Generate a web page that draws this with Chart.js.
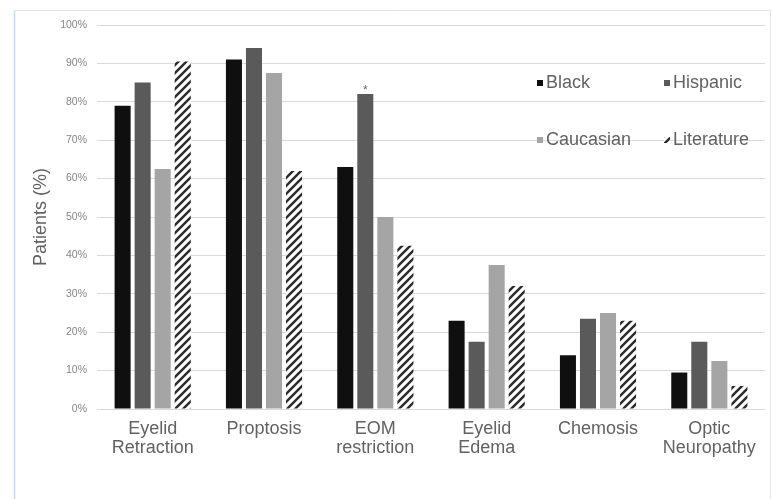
<!DOCTYPE html>
<html>
<head>
<meta charset="utf-8">
<script src="https://cdn.jsdelivr.net/npm/chart.js@4.4.1/dist/chart.umd.min.js"></script>
<style>
  html, body { margin: 0; padding: 0; background: #fff; }
  #wrap { width: 772px; height: 499px; }
</style>
</head>
<body>
<div id="wrap"><canvas id="c" width="772" height="499"></canvas></div>
<script>
// Orbital signs by patient group, percent of patients
const categories = [
  ["Eyelid", "Retraction"],
  ["Proptosis"],
  ["EOM", "restriction"],
  ["Eyelid", "Edema"],
  ["Chemosis"],
  ["Optic", "Neuropathy"]
];
const seriesNames = ["Black", "Hispanic", "Caucasian", "Literature"];
const black      = [79, 91, 63, 23, 14, 9.5];
const hispanic   = [85, 94, 82, 17.5, 23.5, 17.5];
const caucasian  = [62.5, 87.5, 50, 37.5, 25, 12.5];
const literature = [90.5, 62, 42.5, 32, 23, 6];
const yTicks = [0, 10, 20, 30, 40, 50, 60, 70, 80, 90, 100];
// Significant difference marker: series index, category index
const starMark = { series: 1, category: 2, text: "*" };

const FONT = "'Liberation Sans', Arial, Helvetica, sans-serif";

// Diagonal hatch used for the literature series
function hatchPattern(size, color, width) {
  const cv = document.createElement('canvas');
  cv.width = size; cv.height = size;
  const g = cv.getContext('2d');
  g.fillStyle = '#ffffff';
  g.fillRect(0, 0, size, size);
  g.strokeStyle = color;
  g.lineWidth = width;
  g.lineCap = 'square';
  g.beginPath();
  g.moveTo(0, size); g.lineTo(size, 0);
  g.moveTo(-size / 2, size / 2); g.lineTo(size / 2, -size / 2);
  g.moveTo(size / 2, size * 1.5); g.lineTo(size * 1.5, size / 2);
  g.stroke();
  return g.createPattern(cv, 'repeat');
}
const hatch = hatchPattern(8, '#2b2b2b', 2.4);

const fills = ['#0f0f0f', '#5a5a5a', '#a5a5a5', hatch];
const seriesValues = [black, hispanic, caucasian, literature];

const datasets = seriesNames.map((name, i) => ({
  label: name,
  data: seriesValues[i],
  backgroundColor: fills[i],
  borderWidth: 0,
  categoryPercentage: 0.72,
  barPercentage: 0.8
}));

// Outer frame of the figure panel
const framePlugin = {
  id: 'frame',
  beforeDraw(chart) {
    const ctx = chart.ctx;
    ctx.save();
    ctx.fillStyle = '#ffffff';
    ctx.fillRect(0, 0, chart.width, chart.height);
    ctx.lineWidth = 1.5;
    ctx.strokeStyle = '#c8d9f0';
    ctx.beginPath();
    ctx.moveTo(14.5, 10); ctx.lineTo(14.5, chart.height);
    ctx.stroke();
    ctx.lineWidth = 1;
    ctx.strokeStyle = '#e4e4e4';
    ctx.beginPath();
    ctx.moveTo(14, 10.5); ctx.lineTo(770.5, 10.5);
    ctx.lineTo(770.5, chart.height);
    ctx.stroke();
    ctx.restore();
  }
};

// Two-column legend placed inside the plot area, top right
const gridLegendPlugin = {
  id: 'gridLegend',
  afterDatasetsDraw(chart) {
    const ctx = chart.ctx;
    const area = chart.chartArea;
    const cols = [area.right - 228, area.right - 101];
    const rows = [area.top + 58, area.top + 115];
    ctx.save();
    ctx.font = '18px ' + FONT;
    ctx.textBaseline = 'middle';
    ctx.textAlign = 'left';
    chart.data.datasets.forEach((ds, i) => {
      const x = cols[i % 2];
      const y = rows[Math.floor(i / 2)];
      ctx.fillStyle = ds.backgroundColor;
      ctx.fillRect(x, y - 3, 6, 6);
      ctx.fillStyle = '#626262';
      ctx.fillText(ds.label, x + 9, y);
    });
    ctx.restore();
  }
};

// Asterisk above the flagged bar
const starPlugin = {
  id: 'star',
  afterDatasetsDraw(chart) {
    const el = chart.getDatasetMeta(starMark.series).data[starMark.category];
    if (!el) return;
    const ctx = chart.ctx;
    ctx.save();
    ctx.font = '12px ' + FONT;
    ctx.fillStyle = '#6a6a6a';
    ctx.textAlign = 'center';
    ctx.textBaseline = 'alphabetic';
    ctx.fillText(starMark.text, el.x, el.y);
    ctx.restore();
  }
};

new Chart(document.getElementById('c'), {
  type: 'bar',
  data: { labels: categories, datasets },
  plugins: [framePlugin, gridLegendPlugin, starPlugin],
  options: {
    responsive: false,
    animation: false,
    layout: { padding: { left: 0, right: 7, top: 25, bottom: 0 } },
    plugins: {
      legend: { display: false },
      tooltip: { enabled: false }
    },
    scales: {
      x: {
        grid: { display: false, drawTicks: false },
        border: { display: false },
        ticks: {
          color: '#626262',
          font: { family: FONT, size: 18, lineHeight: 1.08 },
          padding: 10,
          maxRotation: 0,
          autoSkip: false
        },
        afterFit(scale) { scale.height = 90; }
      },
      y: {
        min: 0,
        max: 100,
        afterBuildTicks(scale) { scale.ticks = yTicks.map(v => ({ value: v })); },
        grid: { color: '#dadada', lineWidth: 1, drawTicks: false },
        border: { display: false },
        ticks: {
          color: '#858585',
          font: { family: FONT, size: 10.5 },
          padding: 10,
          callback: v => v + '%'
        },
        title: {
          display: true,
          text: 'Patients (%)',
          color: '#626262',
          font: { family: FONT, size: 18 },
          padding: { top: 30, bottom: 0 }
        },
        afterFit(scale) { scale.width = 97; }
      }
    }
  }
});
</script>
</body>
</html>
